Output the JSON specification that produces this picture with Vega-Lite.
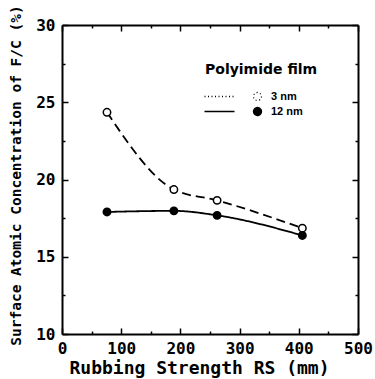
{
  "$schema": "https://vega.github.io/schema/vega-lite/v6.json",
  "width": 296,
  "height": 309,
  "autosize": {"type": "none"},
  "padding": {"left": 62, "top": 25, "right": 17, "bottom": 45},
  "background": "white",
  "data": {
    "values": [
      {"film": "3 nm", "rs": 76, "fc": 24.35},
      {"film": "3 nm", "rs": 189, "fc": 19.35},
      {"film": "3 nm", "rs": 262, "fc": 18.65},
      {"film": "3 nm", "rs": 406, "fc": 16.85},
      {"film": "12 nm", "rs": 76, "fc": 17.9},
      {"film": "12 nm", "rs": 189, "fc": 17.97},
      {"film": "12 nm", "rs": 262, "fc": 17.68},
      {"film": "12 nm", "rs": 406, "fc": 16.38}
    ]
  },
  "config": {
    "view": {"stroke": null},
    "axis": {
      "grid": false,
      "domainColor": "black",
      "domainWidth": 2,
      "tickColor": "black",
      "tickWidth": 1.5,
      "labelFont": "DejaVu Sans Mono",
      "labelFontWeight": "bold",
      "labelFontSize": 16,
      "labelColor": "black",
      "labelFlush": false,
      "labelOverlap": false,
      "titleFont": "DejaVu Sans Mono",
      "titleFontWeight": "bold",
      "titleColor": "black"
    },
    "axisX": {"tickSize": {"condition": {"test": "datum.value % 100 === 0", "value": -6}, "value": -3}},
    "axisY": {"tickSize": {"condition": {"test": "datum.value % 5 === 0", "value": -6}, "value": -3}}
  },
  "layer": [
    {
      "mark": {"type": "line", "interpolate": "monotone", "color": "black", "strokeWidth": 1.8},
      "encoding": {
        "x": {
          "field": "rs", "type": "quantitative",
          "scale": {"domain": [0, 500]},
          "axis": {
            "orient": "bottom",
            "values": [0, 50, 100, 150, 200, 250, 300, 350, 400, 450, 500],
            "labelExpr": "datum.value % 100 === 0 ? datum.label : ''",
            "labelPadding": 12,
            "title": "Rubbing Strength RS (mm)",
            "titleFontSize": 18,
            "titlePadding": 0,
            "titleX": 137
          }
        },
        "y": {
          "field": "fc", "type": "quantitative",
          "scale": {"domain": [10, 30]},
          "axis": {
            "orient": "left",
            "values": [10, 12.5, 15, 17.5, 20, 22.5, 25, 27.5, 30],
            "labelExpr": "datum.value % 5 === 0 ? datum.label : ''",
            "labelPadding": 13,
            "title": "Surface Atomic Concentration of F/C (%)",
            "titleFontSize": 14.5,
            "titlePadding": 12,
            "titleY": 150
          }
        },
        "strokeDash": {
          "field": "film", "type": "nominal",
          "scale": {"range": [[1, 0], [9, 5]]},
          "legend": null
        }
      }
    },
    {
      "mark": {"type": "point", "shape": "circle", "size": 55, "filled": true, "stroke": "black", "strokeWidth": 1.5, "opacity": 1},
      "encoding": {
        "x": {
          "field": "rs", "type": "quantitative",
          "scale": {"domain": [0, 500]},
          "axis": {
            "orient": "top",
            "values": [0, 50, 100, 150, 200, 250, 300, 350, 400, 450, 500],
            "labels": false,
            "title": null
          }
        },
        "y": {
          "field": "fc", "type": "quantitative",
          "scale": {"domain": [10, 30]},
          "axis": {
            "orient": "right",
            "values": [10, 12.5, 15, 17.5, 20, 22.5, 25, 27.5, 30],
            "labels": false,
            "title": null
          }
        },
        "fill": {
          "field": "film", "type": "nominal",
          "scale": {"domain": ["3 nm", "12 nm"], "range": ["white", "black"]},
          "legend": {
            "title": "Polyimide film",
            "orient": "none",
            "legendX": 143,
            "legendY": 38,
            "titleFont": "DejaVu Sans",
            "titleFontSize": 14,
            "titleFontWeight": "bold",
            "titleColor": "black",
            "titlePadding": 14,
            "labelFont": "Liberation Sans",
            "labelFontSize": 11,
            "labelFontWeight": "bold",
            "labelColor": "black",
            "symbolType": "M-13.25,0H-5.75M1,0A1,1 0 1,1 -1,0A1,1 0 1,1 1,0Z",
            "symbolSize": 64,
            "symbolStrokeColor": "black",
            "symbolStrokeWidth": 1.3,
            "symbolDash": {"expr": "datum.value === '3 nm' ? [1, 2.5] : [1, 0]"},
            "symbolOffset": 47,
            "labelOffset": 8,
            "rowPadding": 0
          }
        }
      }
    }
  ],
  "resolve": {"axis": {"x": "independent", "y": "independent"}}
}
